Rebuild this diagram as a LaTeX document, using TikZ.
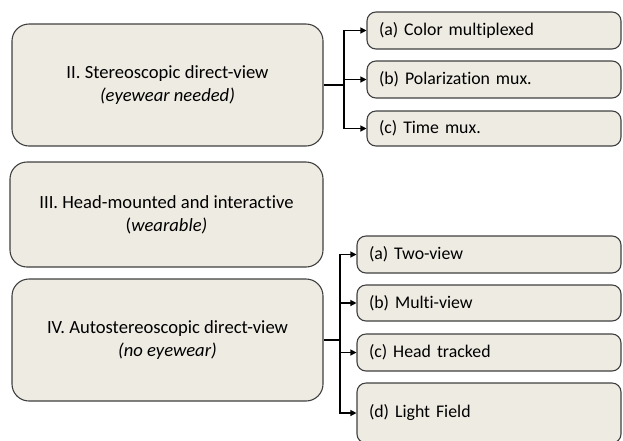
\documentclass[tikz,border=0pt]{standalone}
\usepackage{fontspec}
\setmainfont{Carlito}[Ligatures=NoCommon]
\usetikzlibrary{arrows.meta}
\definecolor{boxfill}{HTML}{EEEBE2}
\definecolor{boxline}{HTML}{404040}
\tikzset{
  mainbox/.style={draw=boxline, fill=boxfill, line width=1.1pt, rounded corners=17pt,
    align=center, font=\fontsize{18.6}{23}\selectfont, inner sep=0pt},
  subbox/.style={draw=boxline, fill=boxfill, line width=1.1pt, rounded corners=9pt,
    align=left, font=\fontsize{17.8}{22}\selectfont, inner sep=0pt, inner xsep=12pt},
  link/.style={line width=1.2pt, black},
  arr/.style={link, -{Triangle[length=6pt,width=6pt]}}
}
\begin{document}
\begin{tikzpicture}[x=1pt,y=-1pt]
\useasboundingbox (0,0) rectangle (623,440);

% main categories
\node[mainbox, minimum width=311pt, minimum height=122pt] (two) at (167.5,85)
  {II. Stereoscopic direct-view\\\textit{(eyewear needed)}};
\node[mainbox, minimum width=313pt, minimum height=105pt] (three) at (166.5,214.5)
  {III. Head-mounted and interactive\\(\textit{wearable)}};
\node[mainbox, minimum width=311pt, minimum height=122pt] (four) at (167.5,340)
  {IV. Autostereoscopic direct-view\\\textit{(no eyewear)}};

% subcategories of II
\node[subbox, text width=230pt, minimum height=37pt] (ta) at (494,30.5) {(a) Color multiplexed};
\node[subbox, text width=230pt, minimum height=37pt] (tb) at (494,79.5) {(b) Polarization mux.};
\node[subbox, text width=230pt, minimum height=35pt] (tc) at (494,128.5) {(c) Time mux.};

% subcategories of IV
\node[subbox, text width=240pt, minimum height=37pt] (fa) at (489,254.5) {(a) Two-view};
\node[subbox, text width=240pt, minimum height=36pt] (fb) at (489,303) {(b) Multi-view};
\node[subbox, text width=240pt, minimum height=37pt] (fc) at (489,352.5) {(c) Head tracked};
\node[subbox, text width=240pt, minimum height=60pt] (fd) at (489,413) {(d) Light Field};

% connectors
\coordinate (j2) at (344,85);
\draw[link] (two.east) -- (j2);
\draw[arr] (j2) |- (ta.west);
\draw[arr] (j2) |- (tb.west);
\draw[arr] (j2) |- (tc.west);

\coordinate (j4) at (340,340);
\draw[link] (four.east) -- (j4);
\draw[arr] (j4) |- (fa.west);
\draw[arr] (j4) |- (fb.west);
\draw[arr] (j4) |- (fc.west);
\draw[arr] (j4) |- (fd.west);
\end{tikzpicture}
\end{document}
